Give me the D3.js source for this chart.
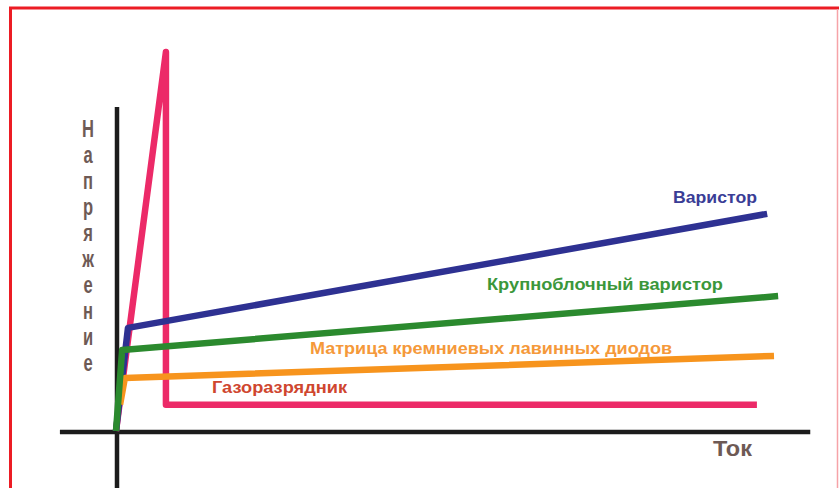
<!DOCTYPE html>
<html>
<head>
<meta charset="utf-8">
<script src="https://cdn.jsdelivr.net/npm/d3@7"></script>
<style>
    body { margin: 0; background: #fff; }
    svg { display: block; font-family: "Liberation Sans", Arial, sans-serif; }
</style>
</head>
<body>
<div id="chart"></div>
<script>
// вольт-амперные характеристики (условные единицы, 0..100)
var names = ["Газоразрядник", "Варистор", "Крупноблочный варистор", "Матрица кремниевых лавинных диодов"];
var gasTok = [0, 7.3, 7.3, 93.7];
var gasU = [0, 100, 6.9, 6.9];
var varTok = [0, 1.75, 95.2];
var varU = [0, 27.2, 57.3];
var bigTok = [0, 0.9, 96.8];
var bigU = [0, 21.4, 35.6];
var diodTok = [0.6, 1.3, 96.2];
var diodU = [7, 14.0, 19.8];
var axisX = "Ток";
var axisY = "Напряжение";

var width = 839, height = 488;

var svg = d3.select("#chart")
    .append("svg")
    .attr("width", width)
    .attr("height", height);

// рамка
svg.append("line")
    .attr("x1", 9).attr("y1", 8).attr("x2", 839).attr("y2", 8)
    .style("stroke", "#ec1c24").style("stroke-width", 3);
svg.append("line")
    .attr("x1", 10.5).attr("y1", 7).attr("x2", 10.5).attr("y2", 488)
    .style("stroke", "#ec1c24").style("stroke-width", 3);
svg.append("line")
    .attr("x1", 837.5).attr("y1", 9).attr("x2", 837.5).attr("y2", 488)
    .style("stroke", "#f6a3a8").style("stroke-width", 1.5);

var x = d3.scaleLinear().domain([0, 100]).range([116, 800]);
var y = d3.scaleLinear().domain([0, 100]).range([431, 52]);

// оси
svg.append("line")
    .attr("x1", x(-8.2)).attr("y1", y(0) + 1).attr("x2", x(101.5)).attr("y2", y(0) + 1)
    .style("stroke", "#1c1c1c").style("stroke-width", 4.5);
svg.append("line")
    .attr("x1", x(0) + 1).attr("y1", y(85.5)).attr("x2", x(0) + 1).attr("y2", height)
    .style("stroke", "#1c1c1c").style("stroke-width", 4.5);

var series = [
    {tok: gasTok, u: gasU, color: "#ec2a68"},
    {tok: varTok, u: varU, color: "#2e3192"},
    {tok: diodTok, u: diodU, color: "#f7941d"},
    {tok: bigTok, u: bigU, color: "#2b8a2e"}
];

var line = d3.line()
    .x(function(d){ return x(d[0]); })
    .y(function(d){ return y(d[1]); });

svg.selectAll("path.curve")
    .data(series)
    .enter()
    .append("path")
    .attr("class", "curve")
    .attr("d", function(d){
        return line(d.tok.map(function(t, i){ return [t, d.u[i]]; }));
    })
    .style("fill", "none")
    .style("stroke", function(d){ return d.color; })
    .style("stroke-width", 6.5)
    .style("stroke-linejoin", "round");

// подписи кривых
var labels = [
    {text: names[1], x: 673, y: 203, len: 84, color: "#3a3d96"},
    {text: names[2], x: 487, y: 290, len: 236, color: "#3b973b"},
    {text: names[3], x: 310, y: 354, len: 362, color: "#f5993a"},
    {text: names[0], x: 212, y: 393, len: 135, color: "#cf462f"}
];

svg.selectAll("text.label")
    .data(labels)
    .enter()
    .append("text")
    .attr("class", "label")
    .attr("x", function(d){ return d.x; })
    .attr("y", function(d){ return d.y; })
    .attr("textLength", function(d){ return d.len; })
    .attr("lengthAdjust", "spacingAndGlyphs")
    .text(function(d){ return d.text; })
    .style("fill", function(d){ return d.color; })
    .style("font-weight", "bold")
    .style("font-size", "17px");

// подписи осей
svg.append("text")
    .attr("x", 713).attr("y", 456)
    .attr("textLength", 39)
    .attr("lengthAdjust", "spacingAndGlyphs")
    .text(axisX)
    .style("fill", "#6e5a55")
    .style("font-weight", "bold")
    .style("font-size", "22px");

svg.selectAll("text.ylet")
    .data(axisY.split(""))
    .enter()
    .append("text")
    .attr("class", "ylet")
    .attr("transform", function(d, i){
        return "translate(88," + (137 + i * 26) + ") scale(0.72,1)";
    })
    .attr("text-anchor", "middle")
    .text(function(d, i){ return i === 0 ? d : d.toLowerCase(); })
    .style("fill", "#6e5a55")
    .style("font-weight", "bold")
    .style("font-size", "23px");
</script>
</body>
</html>
